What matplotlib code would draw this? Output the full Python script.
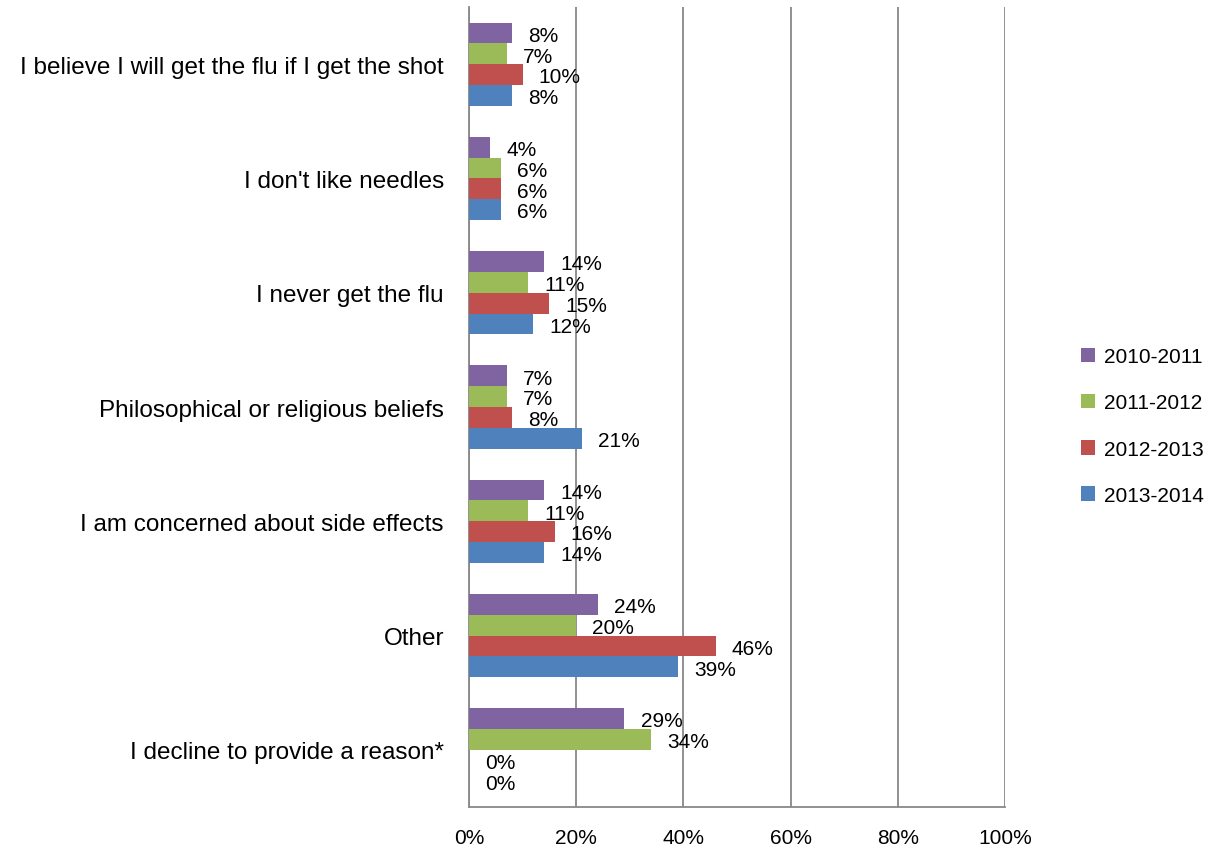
import numpy as np
import matplotlib.pyplot as plt

categories = ["I believe I will get the flu if I get the shot",
              "I don't like needles",
              "I never get the flu",
              "Philosophical or religious beliefs",
              "I am concerned about side effects",
              "Other",
              "I decline to provide a reason*"]
series = ["2010-2011", "2011-2012", "2012-2013", "2013-2014"]
v2010 = [8, 4, 14, 7, 14, 24, 29]
v2011 = [7, 6, 11, 7, 11, 20, 34]
v2012 = [10, 6, 15, 8, 16, 46, 0]
v2013 = [8, 6, 12, 21, 14, 39, 0]
colors = ["#8064A2", "#9BBB59", "#C0504D", "#4F81BD"]

plt.rcParams['font.family'] = ['Liberation Sans', 'DejaVu Sans']

fig = plt.figure(figsize=(12.17, 8.54), dpi=100)
ax = fig.add_axes([469/1217, 1-808/854, (1005-469)/1217, 800/854])

n = len(categories)
ypos = np.arange(n)
h = 0.182
allvals = [v2010, v2011, v2012, v2013]
for i, (vals, c, lab) in enumerate(zip(allvals, colors, series)):
    yy = ypos + (i - 1.5) * h
    ax.barh(yy, vals, height=h, color=c, label=lab, zorder=3)
    for y, v in zip(yy, vals):
        ax.text(v + 3.0, y + 0.02, "%d%%" % v, va='center', ha='left', fontsize=15)

ax.set_ylim(n - 0.5, -0.5)
ax.set_xlim(0, 100)
ax.set_xticks(np.arange(0, 101, 20))
ax.set_xticklabels(["%d%%" % t for t in range(0, 101, 20)], fontsize=15)
ax.tick_params(axis='x', length=0, pad=15)
ax.set_yticks(ypos)
ax.set_yticklabels(categories, fontsize=17.5)
ax.tick_params(axis='y', length=0, pad=18)
ax.grid(axis='x', color='#888888', linewidth=1.3, zorder=0)
for s in ['top', 'right']:
    ax.spines[s].set_visible(False)
for s in ['left', 'bottom']:
    ax.spines[s].set_color('#888888')
    ax.spines[s].set_linewidth(1.3)

leg = fig.legend(loc='center left', bbox_to_anchor=(1062/1217, 1-427/854), frameon=False,
                 fontsize=15, handlelength=0.7, handleheight=0.7, labelspacing=1.3,
                 handletextpad=0.4)

fig.savefig("out.png", dpi=100)
